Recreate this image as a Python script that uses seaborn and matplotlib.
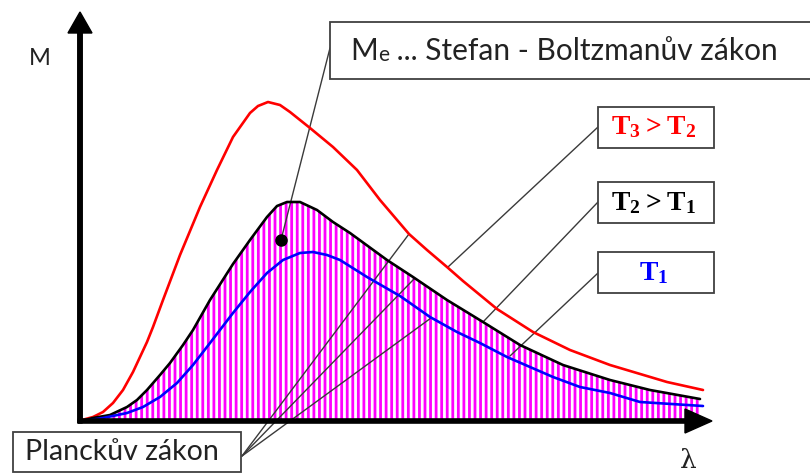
import matplotlib
matplotlib.use("Agg")
import matplotlib.pyplot as plt
from matplotlib.patches import Rectangle
import numpy as np
import pandas as pd
import seaborn as sns

# ---- data (arbitrary units) ----
lam_T3 = [0.2, 1.3, 2.3, 3.3, 4.3, 5.3, 6.0, 6.7, 7.3, 8.3, 10.0, 12.0, 13.7, 15.3, 17.0,
          17.8, 18.8, 20.0, 21.0, 23.0, 25.3, 27.7, 30.0, 32.9, 34.7, 36.7, 38.3, 41.7,
          45.3, 49.0, 53.0, 58.7, 62.3]
M_T3 = [0.1, 0.4, 0.9, 1.8, 3.1, 4.9, 6.4, 7.9, 9.4, 12.1, 16.6, 21.4, 25.1, 28.4, 30.8,
        31.5, 31.9, 31.6, 30.9, 29.3, 27.4, 25.1, 22.1, 18.7, 17.1, 15.4, 14.0, 11.2,
        8.9, 7.1, 5.6, 3.9, 3.1]

lam_T2 = [0.5, 1.3, 3.0, 4.7, 5.7, 6.7, 8.0, 9.0, 10.3, 11.3, 13.0, 15.3, 17.0, 18.7,
          19.7, 20.7, 22.0, 23.7, 25.3, 27.0, 30.7, 33.3, 36.7, 40.3, 44.0, 48.3, 53.0,
          57.0, 62.0]
M_T2 = [0.1, 0.3, 0.6, 1.4, 2.1, 3.1, 4.6, 5.8, 7.6, 9.1, 12.1, 15.7, 18.1, 20.4,
        21.5, 21.9, 21.9, 21.1, 19.9, 18.8, 16.1, 14.4, 12.1, 9.9, 7.6, 5.6, 4.1,
        3.1, 2.2]

lam_T1 = [1.0, 2.3, 4.7, 6.3, 8.0, 9.7, 11.3, 13.0, 15.3, 17.0, 18.7, 20.3, 22.0, 23.3,
          24.7, 26.0, 28.7, 32.0, 35.0, 37.7, 40.0, 42.7, 45.0, 47.3, 50.0, 53.0, 56.0,
          62.3]
M_T1 = [0.1, 0.3, 0.8, 1.4, 2.4, 3.8, 5.6, 7.8, 10.8, 12.9, 14.8, 16.1, 16.8, 16.9,
        16.6, 16.1, 14.4, 12.5, 10.4, 8.9, 7.8, 6.4, 5.4, 4.4, 3.4, 2.8, 1.9, 1.5]

series_names = ["T3", "T2", "T1"]
series_colors = {"T3": "#ff0000", "T2": "#000000", "T1": "#0000ff"}

label_stefan = ["M", "e", " ... Stefan - Boltzmanův zákon"]
label_planck = "Planckův zákon"
label_T = [r"$\mathregular{T_3 > T_2}$", r"$\mathregular{T_2 > T_1}$", r"$\mathregular{T_1}$"]
axis_x_label = "λ"
axis_y_label = "M"

df = pd.concat([
    pd.DataFrame({"λ": lam_T3, "M": M_T3, "T": "T3"}),
    pd.DataFrame({"λ": lam_T2, "M": M_T2, "T": "T2"}),
    pd.DataFrame({"λ": lam_T1, "M": M_T1, "T": "T1"}),
], ignore_index=True)

sns.set_theme(style="white")
plt.rcParams["font.family"] = ["Lato", "DejaVu Sans"]
plt.rcParams["hatch.color"] = "#ff00ff"
plt.rcParams["hatch.linewidth"] = 2.0

fig = plt.figure(figsize=(8.1, 4.73), dpi=100)
ax = fig.add_axes([0, 0, 1, 1])
ax.set_xlim(-8, 73)
ax.set_ylim(-5.2, 42.1)
ax.axis("off")

# hatched area under T2 curve
ax.fill_between(lam_T2, M_T2, 0, facecolor="white", edgecolor="#ff00ff",
                hatch="|||", linewidth=0, zorder=1)

# leader lines
line_kw = dict(color="#3a3a3a", lw=1.0, zorder=3)
ax.plot([25.0, 20.1], [37.3, 18.1], **line_kw)
for tx, ty in [(32.9, 18.7), (33.4, 14.2), (35.1, 10.3)]:
    ax.plot([16.2, tx], [-3.5, ty], **line_kw)
ax.plot([51.8, 36.8], [29.4, 15.4], **line_kw)
ax.plot([51.8, 40.3], [21.9, 9.9], **line_kw)
ax.plot([51.8, 43.0], [14.8, 6.5], **line_kw)

# curves
sns.lineplot(data=df, x="λ", y="M", hue="T", palette=series_colors, sort=False,
             estimator=None, legend=False, lw=1.9, ax=ax, zorder=4)
for ln in ax.lines[-3:]:
    ln.set_solid_joinstyle("round")
    ln.set_solid_capstyle("round")

# dot
ax.plot([20.1], [18.1], "o", color="black", ms=8, zorder=5)

# axes with arrows
ax.arrow(-0.2, 0, 63.4, 0, width=0.42, head_width=2.4, head_length=2.7,
         length_includes_head=True, color="black", zorder=6)
ax.arrow(0, -0.2, 0, 41.1, width=0.45, head_width=2.4, head_length=2.1,
         length_includes_head=True, color="black", zorder=6)

ax.text(-4.0, 36.3, axis_y_label, fontsize=17, color="#222222", ha="center", va="center")
ax.text(60.8, -3.9, axis_x_label, fontsize=19, family="DejaVu Serif", color="#222222",
        ha="center", va="center")

# boxes
box_kw = dict(facecolor="white", edgecolor="#404040", lw=1.3, zorder=7)
ax.add_patch(Rectangle((25.0, 34.2), 50, 5.7, **box_kw))
ax.add_patch(Rectangle((-6.7, -5.1), 22.8, 4.0, **box_kw))
T_box_y = [27.3, 19.8, 12.8]
for y0 in T_box_y:
    ax.add_patch(Rectangle((51.8, y0), 11.6, 4.1, **box_kw))

# Stefan text
t1 = ax.text(27.0, 36.1, label_stefan[0], fontsize=21.5, color="#222222", va="baseline", zorder=8)
t2 = ax.annotate(label_stefan[1], xy=(1, 0), xycoords=t1, fontsize=15, color="#222222",
                 va="bottom", ha="left", zorder=8)
t3 = ax.annotate(label_stefan[2], xy=(1, 0), xycoords=t2, fontsize=21.5, color="#222222",
                 va="bottom", ha="left", zorder=8)

ax.text(-5.5, -3.1, label_planck, fontsize=20.5, color="#222222", va="center", zorder=8)

T_text_y = [29.4, 21.8, 14.8]
for lab, ty, name in zip(label_T, T_text_y, series_names):
    ax.text(57.4, ty, lab, fontsize=20, family="Liberation Serif", fontweight="bold",
            color=series_colors[name], ha="center", va="center", zorder=8)

fig.savefig("out.png", dpi=100)
